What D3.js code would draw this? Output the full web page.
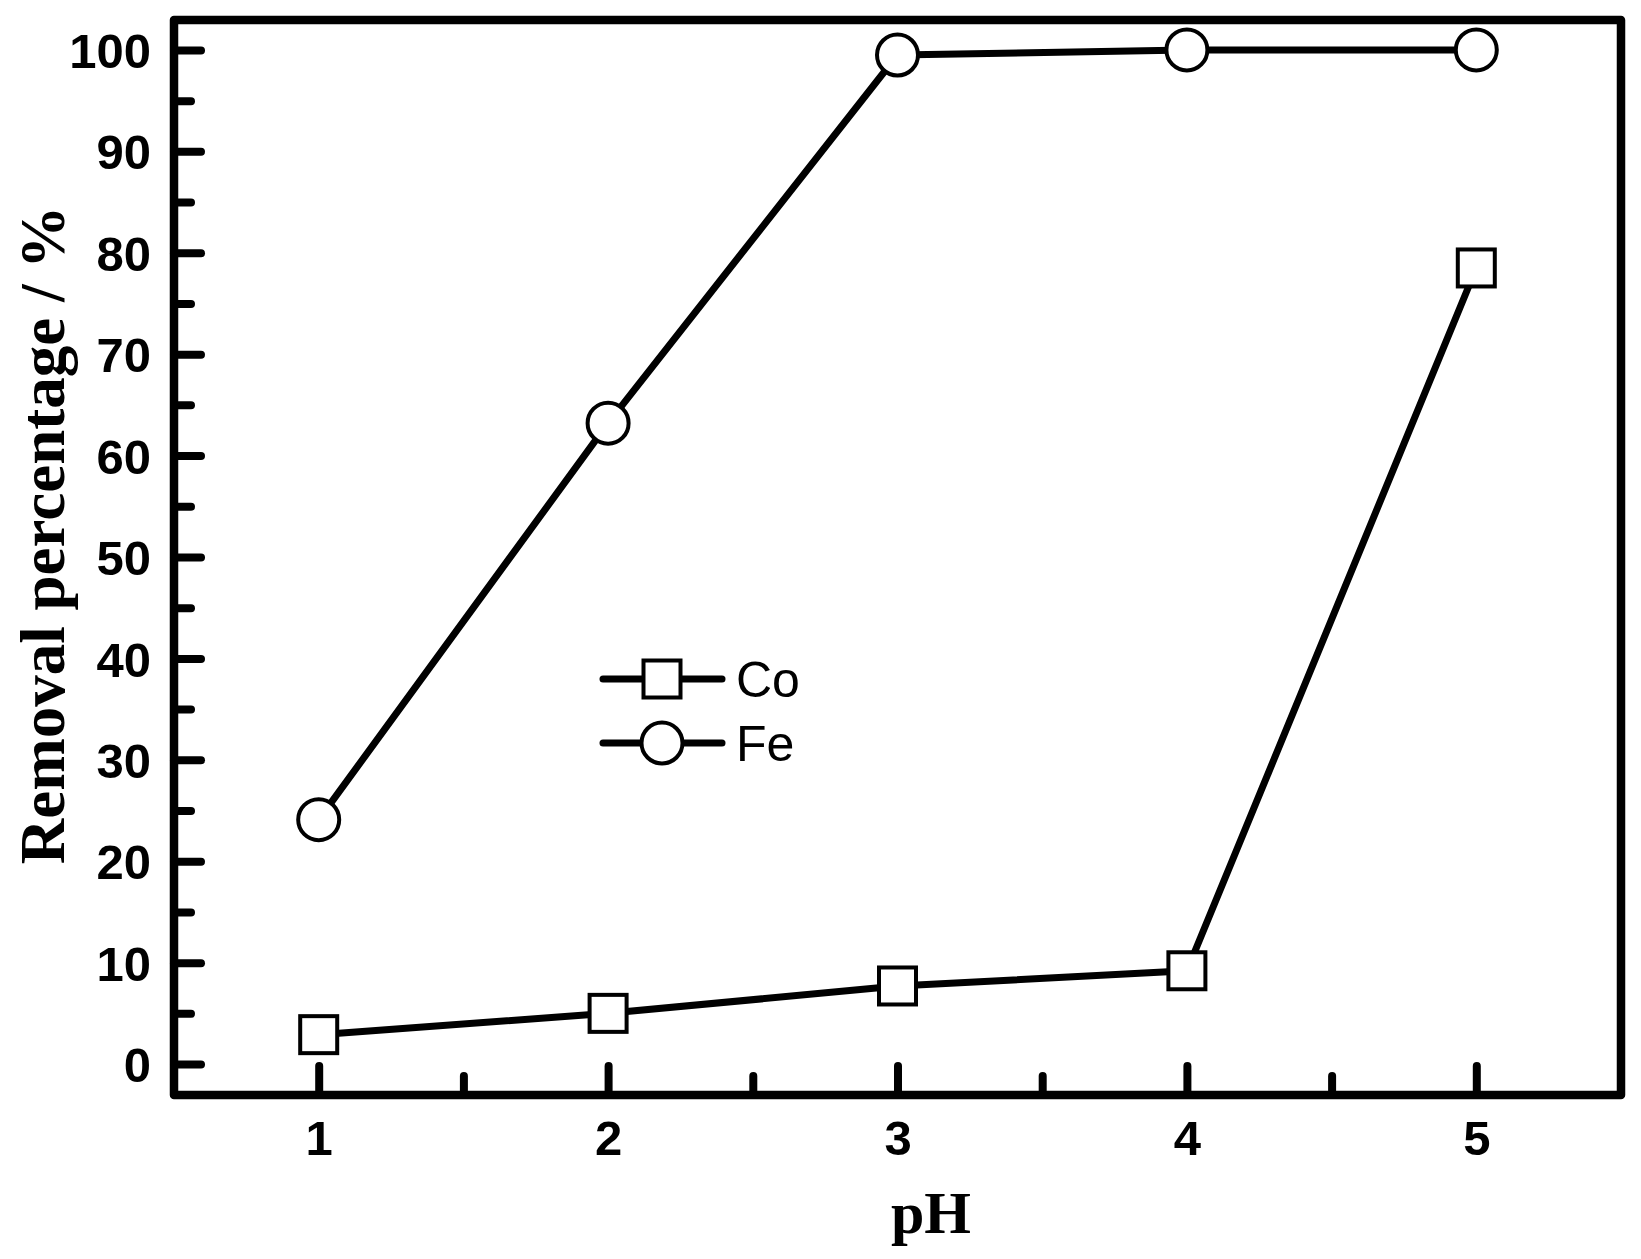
<!DOCTYPE html>
<html><head><meta charset="utf-8">
<script src="https://cdn.jsdelivr.net/npm/d3@7"></script>
<style>body{margin:0;background:#fff}svg{display:block}</style>
</head><body><svg id="c" width="1641" height="1259"></svg>
<script>
const pH = [1, 2, 3, 4, 5];
const coValues = [2.9, 5.0, 7.7, 9.2, 78.5];
const feValues = [24.1, 63.2, 99.5, 100.0, 100.0];
const yTicks = [0, 10, 20, 30, 40, 50, 60, 70, 80, 90, 100];
const yMinor = [5, 15, 25, 35, 45, 55, 65, 75, 85, 95];
const xTicks = [1, 2, 3, 4, 5];
const xMinor = [1.5, 2.5, 3.5, 4.5];
const seriesNames = ["Co", "Fe"];

const svg = d3.select("#c");
const L = 174, R = 1621, T = 20, B = 1095;
const x = d3.scaleLinear().domain([0.5, 5.5]).range([L, R]);
const y = d3.scaleLinear().domain([-3.05, 102.95]).range([B, T]);

// Axes ticks (inward)
const gx = svg.append("g").attr("transform", `translate(0,${B})`)
  .call(d3.axisBottom(x).tickValues(xTicks).tickSize(-29).tickPadding(40).tickFormat(d3.format("d")));
const gxm = svg.append("g").attr("transform", `translate(0,${B})`)
  .call(d3.axisBottom(x).tickValues(xMinor).tickSize(-19).tickFormat(""));
const gy = svg.append("g").attr("transform", `translate(${L},0)`)
  .call(d3.axisLeft(y).tickValues(yTicks).tickSize(-27).tickPadding(23).tickFormat(d3.format("d")));
const gym = svg.append("g").attr("transform", `translate(${L},0)`)
  .call(d3.axisLeft(y).tickValues(yMinor).tickSize(-17).tickFormat(""));
[gx, gxm, gy, gym].forEach(g => {
  g.select(".domain").remove();
  g.selectAll(".tick line").attr("stroke", "#000").attr("stroke-width", 8).attr("stroke-linecap", "round");
  g.selectAll("text").attr("font-family", "'Liberation Sans', Arial, sans-serif")
    .attr("font-weight", "bold").attr("font-size", 49).attr("fill", "#000");
});
gx.selectAll("text").attr("dy", "0.71em").attr("y", 25);
gy.selectAll("text").attr("dy", "0.36em");

// Frame
svg.append("rect").attr("x", L).attr("y", T).attr("width", R - L).attr("height", B - T)
  .attr("fill", "none").attr("stroke", "#000").attr("stroke-width", 8.5).attr("stroke-linejoin", "round");

// Lines
const line = d3.line().x((d, i) => x(pH[i])).y(d => y(d));
[coValues, feValues].forEach(vals => {
  svg.append("path").datum(vals).attr("d", line).attr("fill", "none")
    .attr("stroke", "#000").attr("stroke-width", 7).attr("stroke-linejoin", "round");
});
// Markers
svg.append("g").selectAll("rect").data(coValues).join("rect")
  .attr("x", (d, i) => x(pH[i]) - 18.5).attr("y", d => y(d) - 18.5)
  .attr("width", 37).attr("height", 37)
  .attr("fill", "#fff").attr("stroke", "#000").attr("stroke-width", 4);
svg.append("g").selectAll("circle").data(feValues).join("circle")
  .attr("cx", (d, i) => x(pH[i])).attr("cy", d => y(d)).attr("r", 20.5)
  .attr("fill", "#fff").attr("stroke", "#000").attr("stroke-width", 4);

// Legend
const lg = svg.append("g");
const legY = [679, 743];
seriesNames.forEach((name, i) => {
  const ly = legY[i];
  lg.append("line").attr("x1", 603).attr("x2", 722).attr("y1", ly).attr("y2", ly)
    .attr("stroke", "#000").attr("stroke-width", 7).attr("stroke-linecap", "round");
  if (i === 0) {
    lg.append("rect").attr("x", 662 - 18.5).attr("y", ly - 18.5).attr("width", 37).attr("height", 37)
      .attr("fill", "#fff").attr("stroke", "#000").attr("stroke-width", 4);
  } else {
    lg.append("circle").attr("cx", 662).attr("cy", ly).attr("r", 20.5)
      .attr("fill", "#fff").attr("stroke", "#000").attr("stroke-width", 4);
  }
  lg.append("text").attr("x", 736).attr("y", ly + 18).text(name)
    .attr("font-family", "'Liberation Sans', Arial, sans-serif").attr("font-size", 50).attr("fill", "#000");
});

// Axis titles
svg.append("text").attr("x", 931).attr("y", 1233).attr("text-anchor", "middle").text("pH")
  .attr("font-family", "'Liberation Serif', 'Times New Roman', serif").attr("font-weight", "bold")
  .attr("font-size", 60).attr("fill", "#000");
svg.append("text").attr("transform", "translate(64,535) rotate(-90)").attr("text-anchor", "middle")
  .text("Removal percentage / %")
  .attr("font-family", "'Liberation Serif', 'Times New Roman', serif").attr("font-weight", "bold")
  .attr("font-size", 63).attr("fill", "#000");
</script></body></html>
